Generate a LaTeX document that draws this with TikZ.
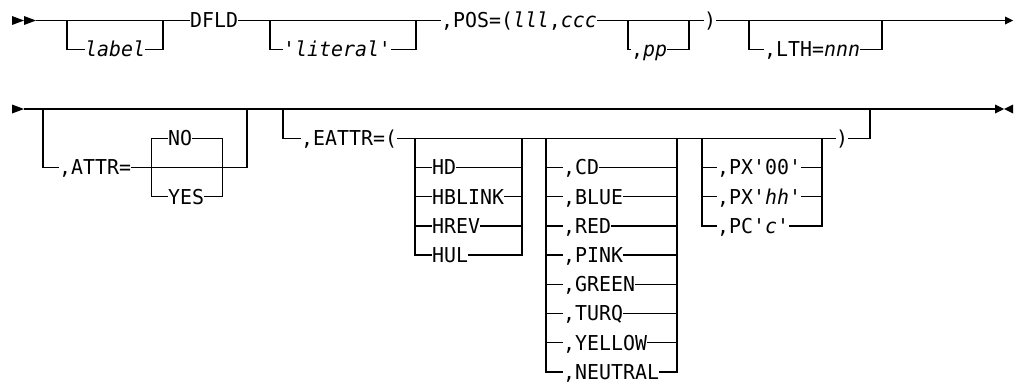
\documentclass[tikz,border=0pt]{standalone}
\usepackage{fontspec}
\newfontfamily\railfont{DejaVu Sans Mono}[FakeStretch=0.97,Ligatures=TeXOff]

\tikzset{
  rail/.style={line width=1.4pt},
  kw/.style={font={\railfont\fontsize{20.5pt}{20.5pt}\selectfont}, anchor=west,
    inner xsep=0pt, inner ysep=0pt, text height=14.9pt, text depth=0pt},
}

\begin{document}
\begin{tikzpicture}[x=1pt,y=-1pt]
  \useasboundingbox (0,0) rectangle (1024,383);
  % first line
  \fill (12,16) -- (24,20.5) -- (12,25) -- cycle (24,16) -- (36,20.5) -- (24,25) -- cycle;
  \coordinate (start1) at (36,20.5);
  \coordinate (end1) at (1005,20.5);
  \node[kw] (dfld) at (190,20.5) {DFLD};
  \node[kw] (pos) at (441,20.5) {,POS=(\textit{lll},\textit{ccc}};
  \node[kw] (close1) at (704,20.5) {)};
  \draw[rail] (start1) -- (dfld.west) (dfld.east) -- (pos.west) (pos.east) -- (close1.west) (close1.east) -- (end1);
  \fill (end1) ++(0,-4) -- ++(8,4) -- ++(-8,4) -- cycle;
  \foreach \n/\l/\r/\x/\t in {label/67/163/85/{\textit{label}}, literal/270/416/283/{\textit{'literal'}},
      pp/628/689/631/{,\textit{pp}}, lth/749/882/764/{,LTH=\textit{nnn}}} {
    \coordinate (\n-l) at (\l,20.5);
    \coordinate (\n-r) at (\r,20.5);
    \node[kw] (\n) at (\x,49.3) {\t};
    \draw[rail] (\n-l) |- (\n.west) (\n.east) -| (\n-r);
  }
  % second line
  \fill (12,104.5) -- (24,109) -- (12,113.5) -- cycle;
  \coordinate (start2) at (24,109);
  \coordinate (end2) at (995,109);
  \draw[rail] (start2) -- (end2);
  \fill (end2) ++(0,-4.5) -- ++(9,4.5) -- ++(-9,4.5) -- cycle;
  \fill (end2) ++(18,-4.5) -- ++(-9,4.5) -- ++(9,4.5) -- cycle;
  % ATTR
  \coordinate (attr-l) at (43,109); \coordinate (attr-r) at (247,109);
  \node[kw] (attr) at (59,167.4) {,ATTR=};
  \coordinate (yn-l) at (151.5,167.4); \coordinate (yn-r) at (222.5,167.4);
  \node[kw] (no) at (168,138.2) {NO};
  \node[kw] (yes) at (168,196.6) {YES};
  \draw[rail] (attr-l) |- (attr.west) (attr.east) -| (attr-r);
  \draw[rail] (yn-l) |- (no.west) (no.east) -| (yn-r);
  \draw[rail] (yn-l) |- (yes.west) (yes.east) -| (yn-r);
  % EATTR
  \coordinate (eattr-l) at (283,109); \coordinate (eattr-r) at (870,109);
  \node[kw] (eattr) at (301,138.2) {,EATTR=(};
  \node[kw] (close2) at (836,138.2) {)};
  \draw[rail] (eattr-l) |- (eattr.west) (eattr.east) -- (close2.west) (close2.east) -| (eattr-r);
  \coordinate (hi-l) at (415,138.2); \coordinate (hi-r) at (522,138.2);
  \foreach \t [count=\i] in {HD,HBLINK,HREV,HUL} {
    \node[kw] (hi\i) at (432,138.2+29.2*\i) {\t};
    \draw[rail] (hi-l) |- (hi\i.west) (hi\i.east) -| (hi-r);
  }
  \coordinate (col-l) at (546,138.2); \coordinate (col-r) at (677,138.2);
  \foreach \t [count=\i] in {{,CD},{,BLUE},{,RED},{,PINK},{,GREEN},{,TURQ},{,YELLOW},{,NEUTRAL}} {
    \node[kw] (col\i) at (563,138.2+29.2*\i) {\t};
    \draw[rail] (col-l) |- (col\i.west) (col\i.east) -| (col-r);
  }
  \coordinate (px-l) at (702,138.2); \coordinate (px-r) at (822,138.2);
  \foreach \t [count=\i] in {{,PX'00'},{,PX'\textit{hh}'},{,PC'\textit{c}'}} {
    \node[kw] (px\i) at (717,138.2+29.2*\i) {\t};
    \draw[rail] (px-l) |- (px\i.west) (px\i.east) -| (px-r);
  }
\end{tikzpicture}
\end{document}
